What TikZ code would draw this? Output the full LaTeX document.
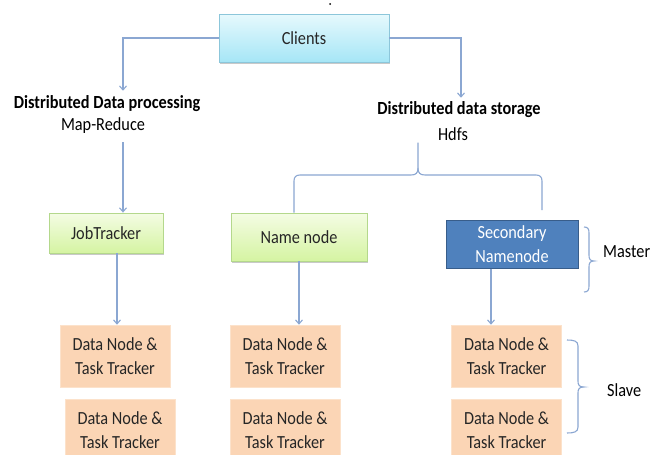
\documentclass[tikz,border=0pt]{standalone}
\usepackage{fontspec}
\setmainfont{Carlito}[FakeStretch=0.88]
\usetikzlibrary{arrows.meta,shadows}
\definecolor{conn}{HTML}{8BA7D2}
\definecolor{txt}{HTML}{262626}
\definecolor{cltop}{HTML}{E6F9FD}
\definecolor{clbot}{HTML}{A6E6F6}
\definecolor{clborder}{HTML}{8CC6DA}
\definecolor{grtop}{HTML}{F4FCE4}
\definecolor{grbot}{HTML}{D5F4A2}
\definecolor{grborder}{HTML}{B4D88C}
\definecolor{bluefill}{HTML}{4F81BD}
\definecolor{blueborder}{HTML}{385D8A}
\definecolor{peach}{HTML}{FBD5B5}
\begin{document}
\begin{tikzpicture}[x=1pt,y=-1pt,
  font=\fontsize{18.5}{24}\selectfont, text=txt,
  line/.style={draw=conn, line width=1.1pt},
  arr/.style={line, -{Straight Barb[length=4pt,width=7pt]}},
  shad/.style={drop shadow={shadow xshift=1pt,shadow yshift=-1.5pt,fill=black!35,opacity=0.6}},
  clientbox/.style={draw=clborder, line width=0.8pt, top color=cltop, bottom color=clbot, shad, inner sep=0pt},
  greenbox/.style={draw=grborder, line width=0.8pt, top color=grtop, bottom color=grbot, shad, inner sep=0pt},
  bluebox/.style={draw=blueborder, line width=1pt, fill=bluefill, text=white, inner sep=0pt, align=center},
  databox/.style={fill=peach, draw=peach!70!white, line width=0.6pt, minimum width=110pt, minimum height=62pt, inner sep=0pt, align=center},
  label/.style={inner sep=2pt, text=black}
]
\useasboundingbox (0,0) rectangle (651,455);
\fill[white] (0,0) rectangle (651,455);
\fill[black] (330,4) circle (1pt);

% nodes
\node[clientbox, minimum width=170pt, minimum height=48pt] (clients) at (304,38) {Clients};
\node[label] (dpt) at (107,104) {\bfseries Distributed Data processing};
\node[label] (mr) at (103,126) {Map-Reduce};
\node[label] (dst) at (459,110) {\bfseries Distributed data storage};
\node[label] (hdfs) at (453,134) {Hdfs};

\node[greenbox, minimum width=114pt, minimum height=40pt] (jt) at (106,233) {JobTracker};
\node[greenbox, minimum width=136pt, minimum height=48pt] (nn) at (299,237) {Name node};
\node[bluebox, minimum width=132pt, minimum height=48pt] (snn) at (512,244) {Secondary\\Namenode};

\node[label, anchor=west] (master) at (601,252) {Master};
\node[label, anchor=west] (slave) at (605,390) {Slave};

\node[databox] (l1) at (115,356) {Data Node \&\\Task Tracker};
\node[databox] (l2) at (120,430) {Data Node \&\\Task Tracker};
\node[databox] (m1) at (285,356) {Data Node \&\\Task Tracker};
\node[databox] (m2) at (285,430) {Data Node \&\\Task Tracker};
\node[databox] (r1) at (506.5,356) {Data Node \&\\Task Tracker};
\node[databox] (r2) at (506.5,430) {Data Node \&\\Task Tracker};

% guide coordinates
\coordinate (xl) at (123,0);
\coordinate (xr) at (461,0);
\coordinate (xj) at (117,0);
\coordinate (xs) at (491,0);
\coordinate (xh) at (418,0);

% connectors
\draw[arr, shorten >=3pt] (clients.west) -| (dpt.north -| xl);
\draw[arr, shorten <=6pt] (mr.south -| xl) -- (jt.north -| xl);
\draw[arr, shorten >=2pt] (clients.east) -| (dst.north -| xr);
\draw[arr] (jt.south -| xj) -- (l1.north -| xj);
\draw[arr] (nn.south) -- (m1.north -| nn.south);
\draw[arr] (snn.south -| xs) -- (r1.north -| xs);

% Hdfs brace
\draw[line] (hdfs.south -| xh) -- (418,168) .. controls (418,173) and (416,175) .. (411,175) -- (300,175)
  .. controls (296,175) and (294,177) .. (294,181) -- (nn.north -| 294,0);
\draw[line] (418,168) .. controls (418,173) and (420,175) .. (425,175) -- (536,175)
  .. controls (540,175) and (542,177) .. (542,181) -- (542,210);

% Master brace
\draw[line] (584,227) .. controls (588,227) and (589,229) .. (589,233) -- (589,255)
  .. controls (589,259) and (590,261) .. (594,261) .. controls (590,261) and (589,263) .. (589,267)
  -- (589,286) .. controls (589,290) and (588,292) .. (584,292);
% Slave brace
\draw[line] (567,340) .. controls (574,340) and (578,341) .. (578,346) -- (578,381)
  .. controls (578,385) and (579,387) .. (584,387) .. controls (579,387) and (578,389) .. (578,393)
  -- (578,427) .. controls (578,432) and (574,433) .. (567,433);
\end{tikzpicture}
\end{document}
